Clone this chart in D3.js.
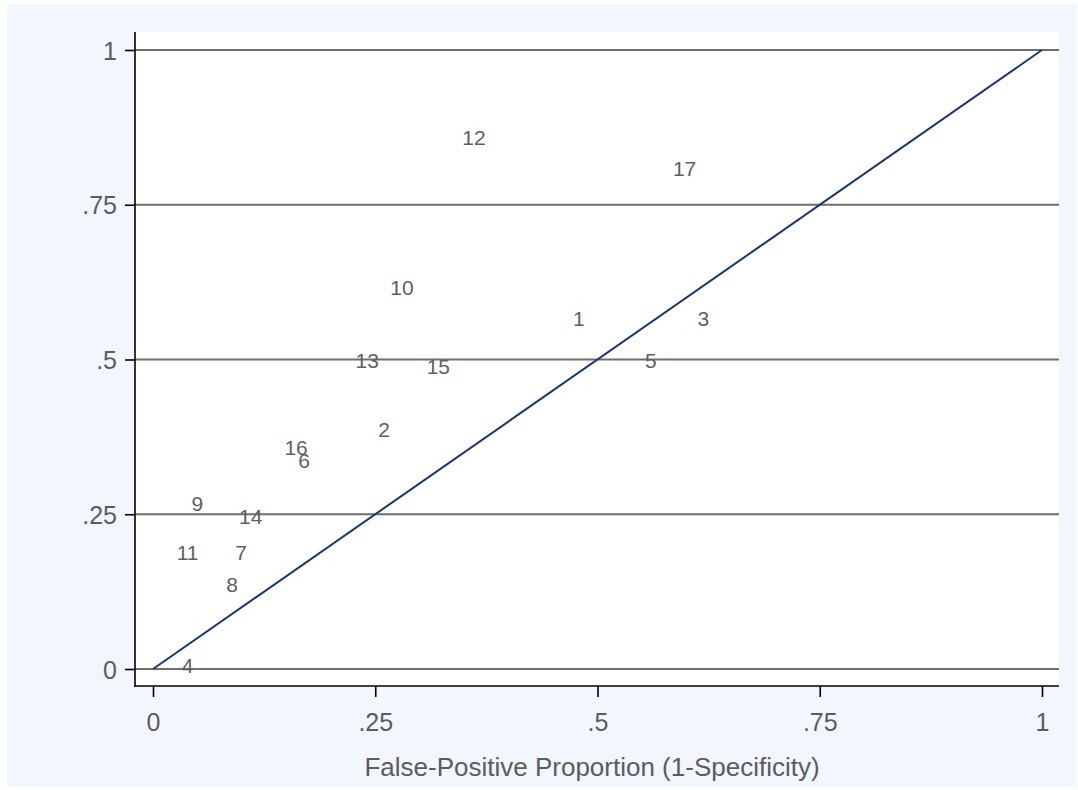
<!DOCTYPE html>
<html>
<head>
<meta charset="utf-8">
<script src="https://cdn.jsdelivr.net/npm/d3@7"></script>
<style>
  html, body { margin: 0; padding: 0; background: #ffffff; }
  svg { display: block; }
</style>
</head>
<body>
<svg id="chart" width="1078" height="790"></svg>
<script>
// ---- data ----
const studyIds = ["1","2","3","4","5","6","7","8","9","10","11","12","13","14","15","16","17"];
const falsePositive = [0.479, 0.260, 0.619, 0.039, 0.560, 0.170, 0.099, 0.089, 0.050, 0.280, 0.039, 0.361, 0.241, 0.110, 0.321, 0.161, 0.598];
const truePositive  = [0.566, 0.387, 0.566, 0.006, 0.499, 0.337, 0.189, 0.137, 0.267, 0.617, 0.189, 0.858, 0.499, 0.247, 0.488, 0.358, 0.809];
const xTicks = [0, 0.25, 0.5, 0.75, 1];
const yTicks = [0, 0.25, 0.5, 0.75, 1];
const tickLabels = ["0", ".25", ".5", ".75", "1"];
const diagonal = [[0, 0], [1, 1]];
const xTitle = "False-Positive Proportion (1-Specificity)";

const svg = d3.select("#chart");
const W = 1078, H = 790;
const font = "Liberation Sans, Arial, Helvetica, sans-serif";

// graph region
svg.append("rect").attr("x", 7).attr("y", 4).attr("width", 1070).attr("height", 783)
  .attr("fill", "#f2f6fe");

// plot region
const plot = { left: 135, right: 1059, top: 32, bottom: 686 };
svg.append("rect").attr("x", plot.left).attr("y", plot.top)
  .attr("width", plot.right - plot.left).attr("height", plot.bottom - plot.top)
  .attr("fill", "#ffffff");

const x = d3.scaleLinear().domain([0, 1]).range([153, 1042]);
const y = d3.scaleLinear().domain([0, 1]).range([669, 50]);

// gridlines
svg.append("g").selectAll("line").data(yTicks).join("line")
  .attr("x1", plot.left).attr("x2", plot.right)
  .attr("y1", d => y(d)).attr("y2", d => y(d))
  .attr("stroke", "#6e6e6e").attr("stroke-width", 2);

// y axis
const yAxis = d3.axisLeft(y).tickValues(yTicks).tickSize(10).tickPadding(8)
  .tickFormat((d, i) => tickLabels[i]);
const gy = svg.append("g").attr("transform", `translate(${plot.left},0)`).call(yAxis);
gy.select(".domain").remove();
gy.append("line").attr("x1", 0).attr("x2", 0).attr("y1", plot.top).attr("y2", plot.bottom + 1)
  .attr("stroke", "#000").attr("stroke-width", 1.6);
gy.selectAll(".tick line").attr("stroke", "#000").attr("stroke-width", 1.6);
gy.selectAll(".tick text").attr("fill", "#5c5c5c").style("font-family", font)
  .style("font-size", "25px").attr("dy", "0.36em");

// x axis
const xAxis = d3.axisBottom(x).tickValues(xTicks).tickSize(11).tickPadding(10)
  .tickFormat((d, i) => tickLabels[i]);
const gx = svg.append("g").attr("transform", `translate(0,${plot.bottom})`).call(xAxis);
gx.select(".domain").remove();
gx.append("line").attr("x1", plot.left).attr("x2", plot.right).attr("y1", 0).attr("y2", 0)
  .attr("stroke", "#000").attr("stroke-width", 1.6);
gx.selectAll(".tick line").attr("stroke", "#000").attr("stroke-width", 1.6);
gx.selectAll(".tick text").attr("fill", "#5c5c5c").style("font-family", font)
  .style("font-size", "25px").attr("dy", "0.95em");

// diagonal line of no discrimination
svg.append("path").datum(diagonal)
  .attr("d", d3.line().x(d => x(d[0])).y(d => y(d[1])))
  .attr("fill", "none").attr("stroke", "#17396f").attr("stroke-width", 2);

// study labels
svg.append("g").selectAll("text").data(studyIds).join("text")
  .attr("x", (d, i) => x(falsePositive[i]))
  .attr("y", (d, i) => y(truePositive[i]))
  .attr("dy", "0.36em")
  .attr("text-anchor", "middle")
  .attr("fill", "#606060")
  .style("font-family", font).style("font-size", "21px")
  .text(d => d);

// axis title
svg.append("text").attr("x", 592).attr("y", 776).attr("text-anchor", "middle")
  .attr("fill", "#5c5c5c").style("font-family", font).style("font-size", "26px")
  .text(xTitle);
</script>
</body>
</html>
